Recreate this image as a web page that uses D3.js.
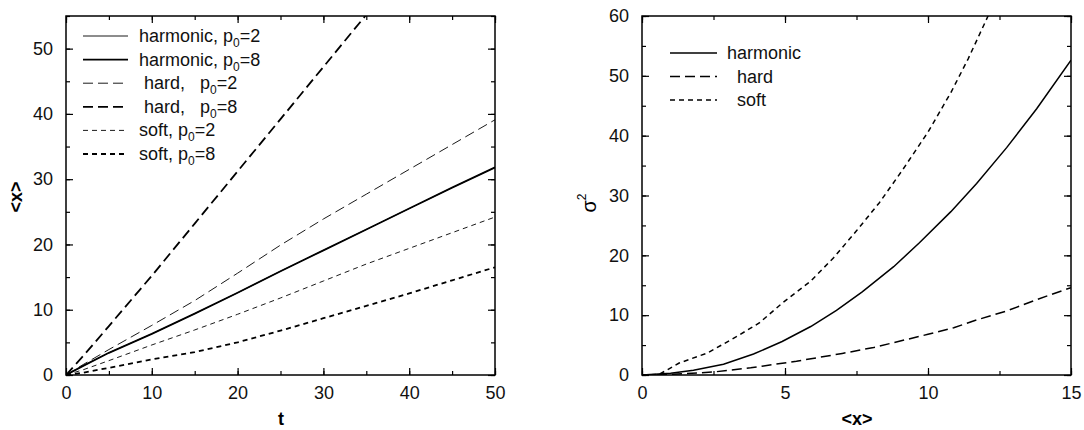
<!DOCTYPE html>
<html>
<head>
<meta charset="utf-8">
<script src="https://cdn.jsdelivr.net/npm/d3@7"></script>
<style>
  body { margin: 0; background: #fff; }
  text { font-family: "Liberation Sans", Arial, sans-serif; }
</style>
</head>
<body>
<script>
// left panel: <x> vs t
var tVals = [0, 2, 5, 10, 15, 20, 25, 30, 35, 40, 45, 50];
var harm2 = [0, 1.4, 3.4, 6.3, 9.4, 12.6, 15.9, 19.1, 22.3, 25.5, 28.7, 31.8];
var harm8 = [0, 1.4, 3.4, 6.3, 9.4, 12.6, 15.9, 19.1, 22.3, 25.5, 28.7, 31.8];
var hard2 = [0, 1.6, 3.9, 7.6, 11.4, 15.6, 19.9, 23.9, 27.7, 31.5, 35.3, 39.1];
var hard8 = [0, 2.9, 7.5, 15.2, 23.2, 31.2, 39.2, 47.2, 55.2];
var soft2 = [0, 0.8, 2.2, 4.6, 6.9, 9.3, 11.8, 14.4, 17.0, 19.4, 21.8, 24.2];
var soft8 = [0, 0.35, 1.1, 2.4, 3.5, 5.0, 6.8, 8.7, 10.6, 12.5, 14.5, 16.5];
var leftXTicks = [0, 10, 20, 30, 40, 50];
var leftYTicks = [0, 10, 20, 30, 40, 50];

// right panel: sigma^2 vs <x>
var harmX = [0, 1, 1.8, 2.85, 3.9, 4.9, 5.9, 6.8, 7.7, 8.8, 9.7, 10.8, 11.7, 12.75, 13.8, 15];
var harmY = [0, 0.3, 0.8, 1.8, 3.5, 5.6, 8.1, 10.8, 13.9, 18.1, 22.1, 27.3, 32.0, 38.0, 44.5, 52.6];
var hardX = [0, 1, 2.5, 3.8, 5.4, 7, 8.1, 10, 10.9, 11.7, 12.75, 13.8, 15];
var hardY = [0, 0.1, 0.5, 1.2, 2.3, 3.6, 4.6, 6.8, 7.9, 9.2, 10.7, 12.6, 14.6];
var softX = [0, 0.6, 1.3, 2.3, 3.3, 4.1, 4.9, 5.9, 6.7, 7.5, 8.3, 9.1, 10, 10.8, 11.4, 12.1, 12.5];
var softY = [0, 0.1, 2.0, 3.7, 6.4, 8.7, 12.0, 15.7, 19.6, 24.1, 28.8, 34.2, 40.6, 47.2, 52.8, 60, 64];
var rightXTicks = [0, 5, 10, 15];
var rightYTicks = [0, 10, 20, 30, 40, 50, 60];

var W = 1084, H = 430;
var svg = d3.select("body").append("svg")
  .attr("width", W)
  .attr("height", H);

var LONG = "10,5", SHORT = "5,4";

function panel(cfg) {
  var x = d3.scaleLinear().domain(cfg.xDomain).range([cfg.left, cfg.right]);
  var y = d3.scaleLinear().domain(cfg.yDomain).range([cfg.bottom, cfg.top]);
  var g = svg.append("g");

  var clipId = "clip" + cfg.id;
  svg.append("clipPath").attr("id", clipId)
    .append("rect")
    .attr("x", cfg.left).attr("y", cfg.top)
    .attr("width", cfg.right - cfg.left).attr("height", cfg.bottom - cfg.top);

  // minor ticks on all four sides
  var minorX = d3.range(cfg.xDomain[0], cfg.xDomain[1] + 1e-9, cfg.xMinor);
  var minorY = d3.range(cfg.yDomain[0], cfg.yDomain[1] + 1e-9, cfg.yMinor);
  function addAxis(axis, tr) {
    var a = g.append("g").attr("transform", tr).call(axis);
    a.select(".domain").remove();
    a.selectAll("line").attr("stroke", "#000").attr("stroke-width", 1.2);
    a.selectAll("text").attr("font-size", 18).attr("fill", "#111")
      .attr("font-family", "Liberation Sans, Arial, sans-serif");
    return a;
  }
  addAxis(d3.axisBottom(x).tickValues(minorX).tickSizeInner(-4).tickSizeOuter(0).tickFormat(""), "translate(0," + cfg.bottom + ")");
  addAxis(d3.axisTop(x).tickValues(minorX).tickSizeInner(-4).tickSizeOuter(0).tickFormat(""), "translate(0," + cfg.top + ")");
  addAxis(d3.axisLeft(y).tickValues(minorY).tickSizeInner(-4).tickSizeOuter(0).tickFormat(""), "translate(" + cfg.left + ",0)");
  addAxis(d3.axisRight(y).tickValues(minorY).tickSizeInner(-4).tickSizeOuter(0).tickFormat(""), "translate(" + cfg.right + ",0)");

  // major ticks
  addAxis(d3.axisBottom(x).tickValues(cfg.xTicks).tickSizeInner(-7).tickSizeOuter(0).tickPadding(11), "translate(0," + cfg.bottom + ")");
  addAxis(d3.axisTop(x).tickValues(cfg.xTicks).tickSizeInner(-7).tickSizeOuter(0).tickFormat(""), "translate(0," + cfg.top + ")");
  addAxis(d3.axisLeft(y).tickValues(cfg.yTicks).tickSizeInner(-7).tickSizeOuter(0).tickPadding(13), "translate(" + cfg.left + ",0)");
  addAxis(d3.axisRight(y).tickValues(cfg.yTicks).tickSizeInner(-7).tickSizeOuter(0).tickFormat(""), "translate(" + cfg.right + ",0)");

  g.append("rect")
    .attr("x", cfg.left).attr("y", cfg.top)
    .attr("width", cfg.right - cfg.left).attr("height", cfg.bottom - cfg.top)
    .attr("fill", "none").attr("stroke", "#000").attr("stroke-width", 1.5);

  var line = d3.line().x(function(d) { return x(d[0]); }).y(function(d) { return y(d[1]); });
  cfg.series.forEach(function(s) {
    g.append("path")
      .datum(d3.zip(s.xs, s.ys))
      .attr("clip-path", "url(#" + clipId + ")")
      .attr("d", line)
      .attr("fill", "none")
      .attr("stroke", "#000")
      .attr("stroke-width", s.w)
      .attr("stroke-dasharray", s.dash);
  });

  // legend
  var lg = g.append("g");
  cfg.series.forEach(function(s, i) {
    var yy = cfg.legY + i * cfg.legStep;
    lg.append("line")
      .attr("x1", cfg.legX).attr("x2", cfg.legX + cfg.legLen)
      .attr("y1", yy).attr("y2", yy)
      .attr("stroke", "#000").attr("stroke-width", s.w)
      .attr("stroke-dasharray", s.dash);
    var t = lg.append("text")
      .attr("x", cfg.legX + cfg.legLen + cfg.legGap)
      .attr("y", yy + 6)
      .attr("font-size", 18)
      .attr("fill", "#111")
      .style("white-space", "pre");
    t.append("tspan").text(s.label);
    if (s.p0) {
      t.append("tspan").text("p");
      t.append("tspan").attr("font-size", 12).attr("dy", 5).text("0");
      t.append("tspan").attr("dy", -5).text("=" + s.p0);
    }
  });
  return { x: x, y: y };
}

panel({
  id: "L",
  left: 66, right: 495, top: 16, bottom: 375,
  xDomain: [0, 50], yDomain: [0, 55],
  xTicks: leftXTicks, yTicks: leftYTicks, xMinor: 5, yMinor: 5,
  legX: 83, legY: 36, legStep: 23.6, legLen: 45, legGap: 11,
  series: [
    { xs: tVals, ys: harm2, w: 0.9, dash: null, label: "harmonic, ", p0: 2 },
    { xs: tVals, ys: harm8, w: 1.8, dash: null, label: "harmonic, ", p0: 8 },
    { xs: tVals, ys: hard2, w: 0.9, dash: LONG, label: " hard,   ", p0: 2 },
    { xs: tVals.slice(0, hard8.length), ys: hard8, w: 1.8, dash: LONG, label: " hard,   ", p0: 8 },
    { xs: tVals, ys: soft2, w: 0.9, dash: SHORT, label: "soft, ", p0: 2 },
    { xs: tVals, ys: soft8, w: 1.8, dash: SHORT, label: "soft, ", p0: 8 }
  ]
});

panel({
  id: "R",
  left: 642, right: 1071, top: 16, bottom: 375,
  xDomain: [0, 15], yDomain: [0, 60],
  xTicks: rightXTicks, yTicks: rightYTicks, xMinor: 2.5, yMinor: 5,
  legX: 670, legY: 53, legStep: 23.5, legLen: 47, legGap: 10,
  series: [
    { xs: harmX, ys: harmY, w: 1.5, dash: null, label: "harmonic" },
    { xs: hardX, ys: hardY, w: 1.5, dash: LONG, label: "  hard" },
    { xs: softX, ys: softY, w: 1.5, dash: SHORT, label: "  soft" }
  ]
});

// axis titles
svg.append("text")
  .attr("x", 281).attr("y", 425)
  .attr("text-anchor", "middle")
  .attr("font-size", 18).attr("font-weight", "bold")
  .text("t");

svg.append("text")
  .attr("transform", "translate(22,197) rotate(-90)")
  .attr("text-anchor", "middle")
  .attr("font-size", 18).attr("font-weight", "bold")
  .text("<x>");

svg.append("text")
  .attr("x", 857).attr("y", 425)
  .attr("text-anchor", "middle")
  .attr("font-size", 18).attr("font-weight", "bold")
  .text("<x>");

var sig = svg.append("text")
  .attr("transform", "translate(596,203) rotate(-90)")
  .attr("text-anchor", "middle")
  .attr("font-size", 20);
sig.append("tspan").text("σ");
sig.append("tspan").attr("font-size", 12).attr("dy", -10).text("2");
</script>
</body>
</html>
